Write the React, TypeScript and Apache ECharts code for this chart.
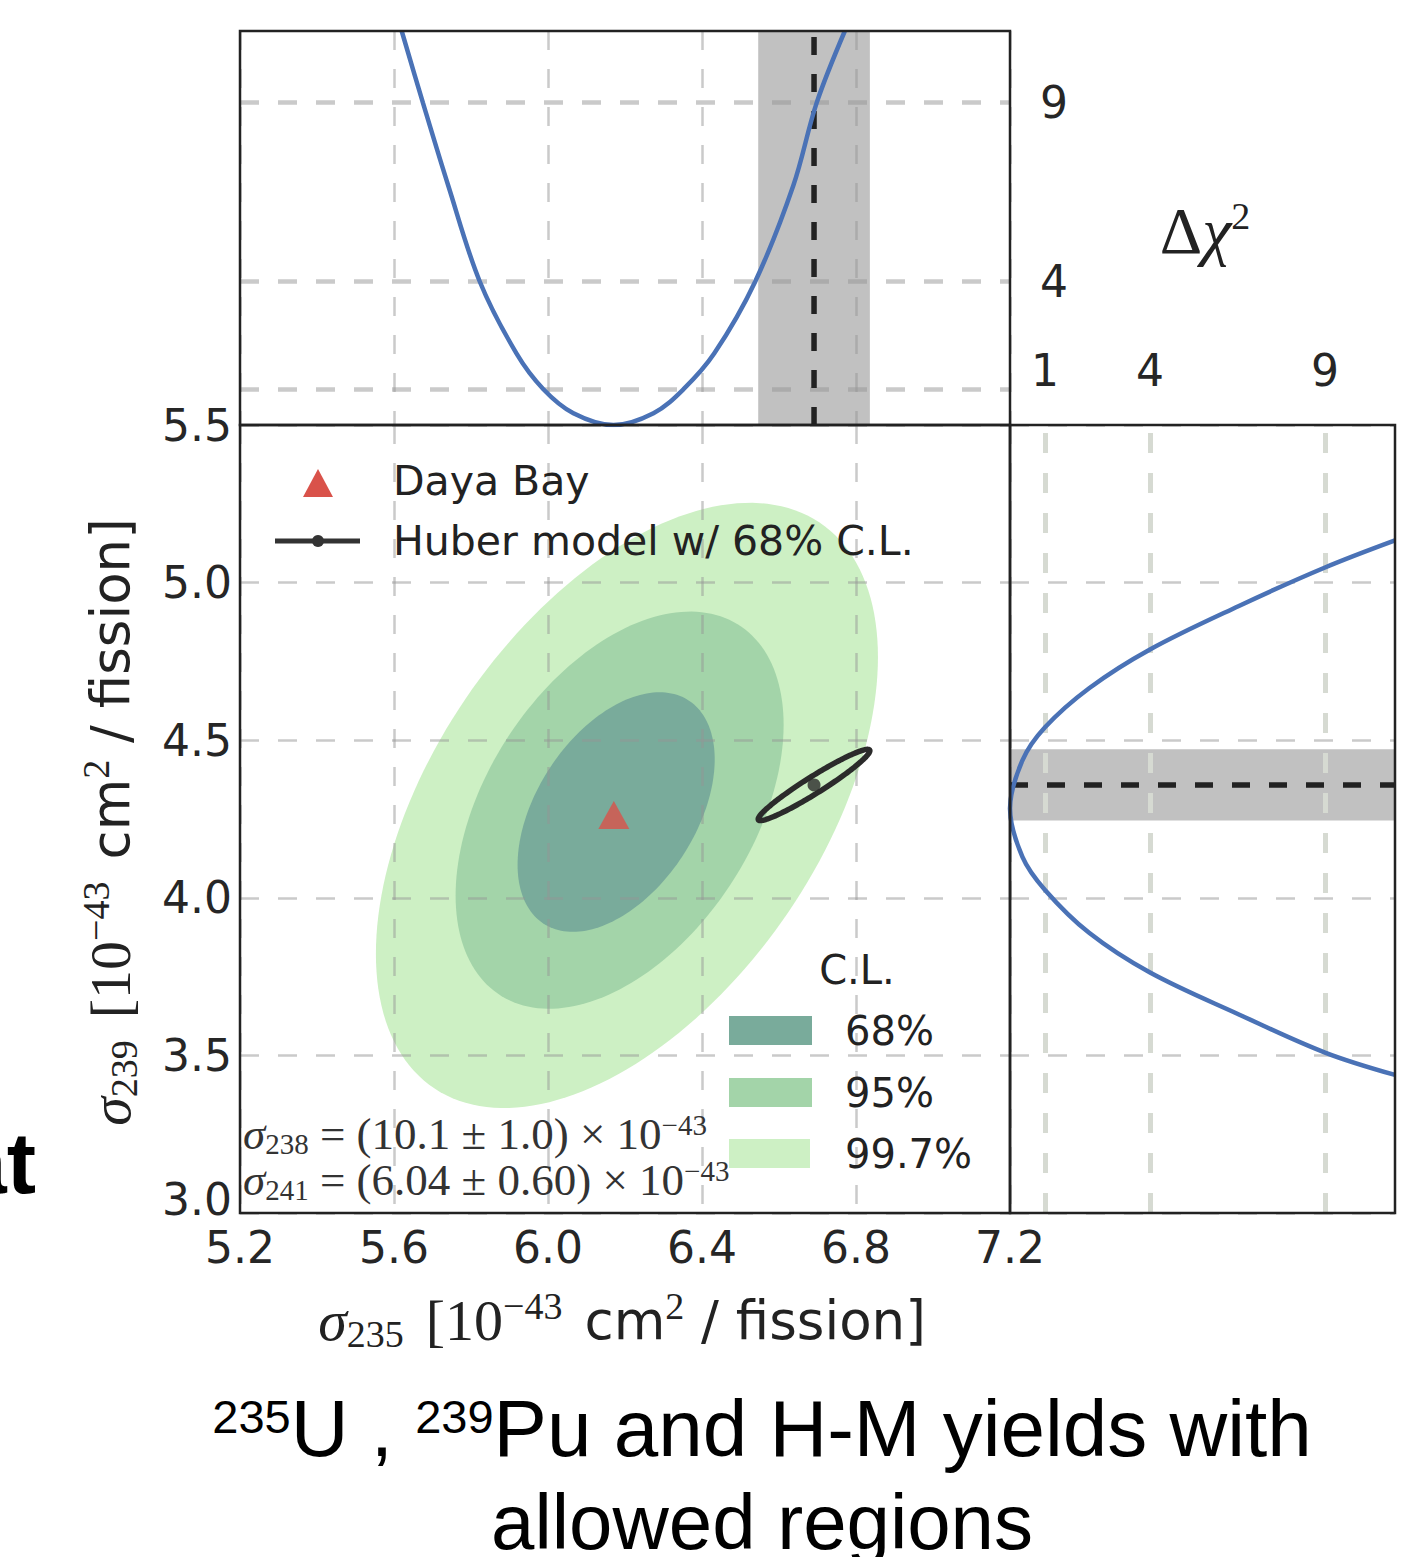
import React, { useEffect, useRef } from 'react';
import * as echarts from 'echarts';

// ---- data ----
const xTickValues = [5.2, 5.6, 6.0, 6.4, 6.8, 7.2];
const yTickValues = [3.0, 3.5, 4.0, 4.5, 5.0, 5.5];
const chiTickLabels = [1, 4, 9];

// top panel: Δχ² profile vs σ235
const topSigma235 = [5.620, 5.675, 5.741, 5.823, 5.918, 5.988, 6.066, 6.170, 6.274, 6.352, 6.432, 6.538, 6.637, 6.698, 6.771];
const topDchi2 = [11.0, 9.0, 6.68, 4.0, 2.0, 1.0, 0.33, 0.0, 0.33, 1.0, 2.0, 4.0, 6.68, 9.0, 11.0];

// right panel: Δχ² profile vs σ239
const rightDchi2 = [11.0, 9.0, 6.54, 4.0, 2.26, 1.0, 0.355, 0.0, 0.355, 1.0, 2.26, 4.0, 6.54, 9.0, 11.0];
const rightSigma239 = [5.134, 5.048, 4.926, 4.788, 4.665, 4.541, 4.436, 4.283, 4.130, 4.025, 3.889, 3.763, 3.630, 3.509, 3.438];

// allowed regions (ellipse parameters: centre, half extents, correlation)
const clLabels = ['99.7%', '95%', '68%'];
const clCenterX = [6.205, 6.186, 6.177];
const clCenterY = [4.293, 4.278, 4.272];
const clHalfX = [0.652, 0.426, 0.256];
const clHalfY = [0.960, 0.630, 0.380];
const clRho = [0.49, 0.43, 0.44];
const clColors = ['#cdf0c4', '#a3d4a9', '#79ab9b'];

// Daya Bay best fit
const dayaBay = [6.171, 4.263];

// Huber model prediction
const huberCenter = [6.691, 4.358];
const huberErr = [0.145, 0.113];
const huberRho = 0.96;

const TICK_FONT = 'DejaVu Sans';
const SERIF = 'Liberation Serif';
const TXT = '#262626';

function ellipsePts(api: any, cx: number, cy: number, hx: number, hy: number, rho: number) {
  const pts: number[][] = [];
  const n = 180;
  const s = Math.sqrt(1 - rho * rho);
  for (let k = 0; k <= n; k++) {
    const t = (2 * Math.PI * k) / n;
    const x = cx + hx * Math.cos(t);
    const y = cy + hy * (rho * Math.cos(t) + s * Math.sin(t));
    pts.push(api.coord([x, y]));
  }
  return pts;
}

const gridDash = { show: true, lineStyle: { color: 'rgba(150,150,150,0.5)', width: 2.5, type: [19, 19] } };

const axisTitleRich = {
  i: { fontFamily: SERIF, fontStyle: 'italic', fontSize: 58, lineHeight: 66, verticalAlign: 'middle', fill: '#222' },
  r: { fontFamily: SERIF, fontSize: 58, lineHeight: 66, verticalAlign: 'middle', fill: '#222' },
  t: { fontFamily: TICK_FONT, fontSize: 53, lineHeight: 66, verticalAlign: 'middle', fill: '#222' },
  g: { fontSize: 20, width: 22, lineHeight: 66 },
  sub: { fontFamily: SERIF, fontSize: 38, lineHeight: 38, verticalAlign: 'bottom', fill: '#222' },
  sup: { fontFamily: SERIF, fontSize: 38, lineHeight: 38, verticalAlign: 'top', fill: '#222' },
};

const annotRich = {
  i: { fontFamily: SERIF, fontStyle: 'italic', fontSize: 45, lineHeight: 48, verticalAlign: 'middle', fill: '#333' },
  r: { fontFamily: SERIF, fontSize: 45, lineHeight: 48, verticalAlign: 'middle', fill: '#333' },
  sub: { fontFamily: SERIF, fontSize: 29, lineHeight: 28, verticalAlign: 'bottom', fill: '#333' },
  sup: { fontFamily: SERIF, fontSize: 29, lineHeight: 28, verticalAlign: 'top', fill: '#333' },
};

export default function App() {
  const ref = useRef<HTMLDivElement>(null);

  useEffect(() => {
    if (!ref.current) return;
    const chart = echarts.init(ref.current, undefined, { renderer: 'svg' });

    const contourData = clLabels.map((_, i) => [clCenterX[i], clCenterY[i], clHalfX[i], clHalfY[i], clRho[i]]);

    const option: any = {
      animation: false,
      backgroundColor: '#ffffff',
      grid: [
        { left: 240, top: 425, width: 770, height: 788, show: true, borderColor: '#222', borderWidth: 2.5, backgroundColor: 'transparent', z: 7 },
        { left: 240, top: 31, width: 770, height: 394, show: true, borderColor: '#222', borderWidth: 2.5, backgroundColor: 'transparent', z: 7 },
        { left: 1010, top: 425, width: 385, height: 788, show: true, borderColor: '#222', borderWidth: 2.5, backgroundColor: 'transparent', z: 7 },
      ],
      xAxis: [
        {
          gridIndex: 0, type: 'value', min: xTickValues[0], max: xTickValues[xTickValues.length - 1], interval: 0.4, z: 3,
          axisLine: { show: false }, axisTick: { show: false },
          axisLabel: { fontFamily: TICK_FONT, fontSize: 44, color: TXT, margin: 12, formatter: (v: number) => v.toFixed(1), showMinLabel: true, showMaxLabel: true },
          splitLine: gridDash,
        },
        {
          gridIndex: 1, type: 'value', min: xTickValues[0], max: xTickValues[xTickValues.length - 1], interval: 0.4, z: 3,
          axisLine: { show: false }, axisTick: { show: false }, axisLabel: { show: false },
          splitLine: gridDash,
        },
        {
          gridIndex: 2, type: 'value', min: 0, max: 11, interval: 1, position: 'top', z: 3,
          axisLine: { show: false }, axisTick: { show: false },
          axisLabel: { fontFamily: TICK_FONT, fontSize: 44, color: TXT, margin: 33, formatter: (v: number) => (chiTickLabels.includes(v) ? String(v) : '') },
          splitLine: { show: false },
        },
      ],
      yAxis: [
        {
          gridIndex: 0, type: 'value', min: yTickValues[0], max: yTickValues[yTickValues.length - 1], interval: 0.5, z: 3,
          axisLine: { show: false }, axisTick: { show: false },
          axisLabel: {
            fontFamily: TICK_FONT, fontSize: 44, color: TXT, margin: 8, showMinLabel: true, showMaxLabel: true,
            formatter: (v: number) => (v === yTickValues[0] ? '{lo|' + v.toFixed(1) + '}' : v.toFixed(1)),
            rich: { lo: { fontFamily: TICK_FONT, fontSize: 44, color: TXT, padding: [0, 0, 28, 0] } },
          },
          splitLine: gridDash,
        },
        {
          gridIndex: 1, type: 'value', min: 0, max: 11, interval: 1, position: 'right', z: 3,
          axisLine: { show: false }, axisTick: { show: false },
          axisLabel: { fontFamily: TICK_FONT, fontSize: 44, color: TXT, margin: 30, formatter: (v: number) => (v === 4 || v === 9 ? String(v) : '') },
          splitLine: { show: false },
        },
        {
          gridIndex: 2, type: 'value', min: yTickValues[0], max: yTickValues[yTickValues.length - 1], interval: 0.5, z: 3,
          axisLine: { show: false }, axisTick: { show: false }, axisLabel: { show: false },
          splitLine: gridDash,
        },
      ],
      series: [
        {
          name: 'contours', type: 'custom', xAxisIndex: 0, yAxisIndex: 0, z: 1, silent: true,
          data: contourData,
          renderItem: (params: any, api: any) => ({
            type: 'polygon',
            shape: { points: ellipsePts(api, api.value(0), api.value(1), api.value(2), api.value(3), api.value(4)) },
            style: { fill: clColors[params.dataIndex] },
          }),
        },
        {
          name: 'Huber model w/ 68% C.L.', type: 'custom', xAxisIndex: 0, yAxisIndex: 0, z: 5, silent: true,
          data: [[huberCenter[0], huberCenter[1], huberErr[0], huberErr[1], huberRho]],
          renderItem: (_p: any, api: any) => ({
            type: 'polygon',
            shape: { points: ellipsePts(api, api.value(0), api.value(1), api.value(2), api.value(3), api.value(4)) },
            style: { fill: 'none', stroke: '#2b2b2b', lineWidth: 5.5 },
          }),
        },
        {
          name: 'Huber centre', type: 'scatter', xAxisIndex: 0, yAxisIndex: 0, z: 6,
          symbol: 'circle', symbolSize: 13, itemStyle: { color: '#2b2b2b' },
          data: [huberCenter],
        },
        {
          name: 'Daya Bay', type: 'scatter', xAxisIndex: 0, yAxisIndex: 0, z: 6,
          symbol: 'triangle', symbolSize: [31, 28], itemStyle: { color: '#d9524a' },
          data: [dayaBay],
        },
        // top panel
        {
          name: 'band235', type: 'custom', xAxisIndex: 1, yAxisIndex: 1, z: 1, silent: true,
          data: [[huberCenter[0] - huberErr[0], huberCenter[0] + huberErr[0]]],
          renderItem: (_p: any, api: any) => {
            const a = api.coord([api.value(0), 11]);
            const b = api.coord([api.value(1), 0]);
            return { type: 'rect', shape: { x: a[0], y: a[1], width: b[0] - a[0], height: b[1] - a[1] }, style: { fill: '#c1c1c1' } };
          },
        },
        {
          name: 'huber235', type: 'line', xAxisIndex: 1, yAxisIndex: 1, z: 5, silent: true,
          symbol: 'none', lineStyle: { color: '#222', width: 5.5, type: [18, 19] },
          data: [[huberCenter[0], 0], [huberCenter[0], 11]],
          markLine: {
            silent: true, z: 3, symbol: 'none', label: { show: false },
            lineStyle: { color: 'rgba(150,150,150,0.5)', width: 4.5, type: [19, 19] },
            data: chiTickLabels.map((v) => ({ yAxis: v })),
          },
        },
        {
          name: 'chi2_235', type: 'line', xAxisIndex: 1, yAxisIndex: 1, z: 6, silent: true,
          symbol: 'none', smooth: 0.35, lineStyle: { color: '#4a72b6', width: 4.5 },
          data: topSigma235.map((x, i) => [x, topDchi2[i]]),
        },
        // right panel
        {
          name: 'band239', type: 'custom', xAxisIndex: 2, yAxisIndex: 2, z: 1, silent: true,
          data: [[huberCenter[1] - huberErr[1], huberCenter[1] + huberErr[1]]],
          renderItem: (_p: any, api: any) => {
            const a = api.coord([0, api.value(1)]);
            const b = api.coord([11, api.value(0)]);
            return { type: 'rect', shape: { x: a[0], y: a[1], width: b[0] - a[0], height: b[1] - a[1] }, style: { fill: '#c1c1c1' } };
          },
        },
        {
          name: 'huber239', type: 'line', xAxisIndex: 2, yAxisIndex: 2, z: 5, silent: true,
          symbol: 'none', lineStyle: { color: '#222', width: 5.5, type: [18, 19] },
          data: [[0, huberCenter[1]], [11, huberCenter[1]]],
          markLine: {
            silent: true, z: 3, symbol: 'none', label: { show: false },
            lineStyle: { color: '#d6dad2', width: 5, type: [20, 20] },
            data: chiTickLabels.map((v) => ({ xAxis: v })),
          },
        },
        {
          name: 'chi2_239', type: 'line', xAxisIndex: 2, yAxisIndex: 2, z: 6, silent: true,
          symbol: 'none', smooth: 0.35, lineStyle: { color: '#4a72b6', width: 4.5 },
          data: rightDchi2.map((c, i) => [c, rightSigma239[i]]),
        },
      ],
      graphic: [
        // legend (top-left)
        { type: 'polygon', z: 10, shape: { points: [[303, 497], [333, 497], [318, 469]] }, style: { fill: '#d9524a' } },
        { type: 'text', z: 10, x: 393, y: 481, style: { text: 'Daya Bay', fontFamily: TICK_FONT, fontSize: 41, fill: '#222', align: 'left', verticalAlign: 'middle' } },
        { type: 'line', z: 10, shape: { x1: 275, y1: 541, x2: 360, y2: 541 }, style: { stroke: '#333', lineWidth: 5 } },
        { type: 'circle', z: 10, shape: { cx: 318, cy: 541, r: 6 }, style: { fill: '#333' } },
        { type: 'text', z: 10, x: 393, y: 541, style: { text: 'Huber model w/ 68% C.L.', fontFamily: TICK_FONT, fontSize: 41, fill: '#222', align: 'left', verticalAlign: 'middle' } },
        // C.L. legend
        { type: 'text', z: 10, x: 857, y: 970, style: { text: 'C.L.', fontFamily: TICK_FONT, fontSize: 40, fill: '#222', align: 'center', verticalAlign: 'middle' } },
        { type: 'rect', z: 10, shape: { x: 729, y: 1016, width: 83, height: 29 }, style: { fill: clColors[2] } },
        { type: 'rect', z: 10, shape: { x: 729, y: 1078, width: 83, height: 29 }, style: { fill: clColors[1] } },
        { type: 'rect', z: 10, shape: { x: 729, y: 1139, width: 81, height: 29 }, style: { fill: clColors[0] } },
        { type: 'text', z: 10, x: 845, y: 1031, style: { text: clLabels[2], fontFamily: TICK_FONT, fontSize: 40, fill: '#222', align: 'left', verticalAlign: 'middle' } },
        { type: 'text', z: 10, x: 845, y: 1093, style: { text: clLabels[1], fontFamily: TICK_FONT, fontSize: 40, fill: '#222', align: 'left', verticalAlign: 'middle' } },
        { type: 'text', z: 10, x: 845, y: 1154, style: { text: clLabels[0], fontFamily: TICK_FONT, fontSize: 40, fill: '#222', align: 'left', verticalAlign: 'middle' } },
        // fixed-parameter annotations
        {
          type: 'text', z: 10, x: 243, y: 1134,
          style: { text: '{i|σ}{sub|238}{r| = (10.1 ± 1.0) × 10}{sup|−43}', align: 'left', verticalAlign: 'middle', rich: annotRich },
        },
        {
          type: 'text', z: 10, x: 243, y: 1180,
          style: { text: '{i|σ}{sub|241}{r| = (6.04 ± 0.60) × 10}{sup|−43}', align: 'left', verticalAlign: 'middle', rich: annotRich },
        },
        // Δχ² label
        {
          type: 'text', z: 10, x: 1205, y: 230,
          style: {
            text: '{d|Δ}{c|χ}{sup|2}', align: 'center', verticalAlign: 'middle',
            rich: {
              d: { fontFamily: SERIF, fontSize: 66, lineHeight: 66, verticalAlign: 'middle', fill: '#222' },
              c: { fontFamily: SERIF, fontStyle: 'italic', fontSize: 66, lineHeight: 66, verticalAlign: 'middle', fill: '#222' },
              sup: { fontFamily: SERIF, fontSize: 38, lineHeight: 38, verticalAlign: 'top', fill: '#222' },
            },
          },
        },
        // x-axis title
        {
          type: 'text', z: 10, x: 622, y: 1320,
          style: {
            text: '{i|σ}{sub|235}{g| }{r|[10}{sup|−43}{g| }{t|cm}{sup|2}{t| / fission]}',
            align: 'center', verticalAlign: 'middle', rich: axisTitleRich,
          },
        },
        // y-axis title (rotated)
        {
          type: 'text', z: 10, x: 110, y: 822, rotation: Math.PI / 2,
          style: {
            text: '{i|σ}{sub|239}{g| }{r|[10}{sup|−43}{g| }{t|cm}{sup|2}{t| / fission]}',
            align: 'center', verticalAlign: 'middle', rich: axisTitleRich,
          },
        },
        // caption
        {
          type: 'text', z: 10, x: 762, y: 1428,
          style: {
            text: '{sup|235}{m|U , }{sup|239}{m|Pu and H-M yields with}',
            align: 'center', verticalAlign: 'middle',
            rich: {
              m: { fontFamily: 'Liberation Sans', fontSize: 80, lineHeight: 70, verticalAlign: 'middle', fill: '#000' },
              sup: { fontFamily: 'Liberation Sans', fontSize: 47, lineHeight: 47, verticalAlign: 'top', fill: '#000' },
            },
          },
        },
        {
          type: 'text', z: 10, x: 762, y: 1522,
          style: { text: 'allowed regions', fontFamily: 'Liberation Sans', fontSize: 78, fill: '#000', align: 'center', verticalAlign: 'middle' },
        },
        // cut-off slide text at the left edge
        {
          type: 'text', z: 10, x: 36, y: 1162,
          style: { text: 'at', fontFamily: 'Liberation Sans', fontWeight: 'bold', fontSize: 88, fill: '#000', align: 'right', verticalAlign: 'middle' },
        },
      ],
    };

    chart.setOption(option);
    return () => chart.dispose();
  }, []);

  return <div ref={ref} style={{ position: 'absolute', left: 0, top: 0, width: 1403, height: 1557, background: '#fff' }} />;
}
